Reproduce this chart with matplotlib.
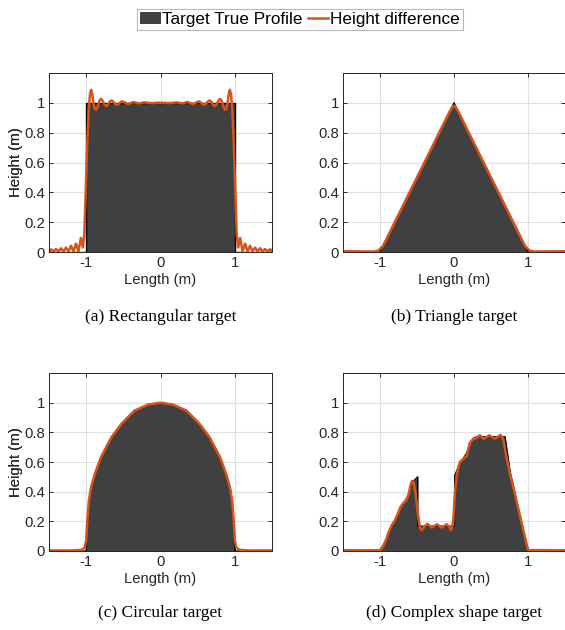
import matplotlib
matplotlib.use("Agg")
import matplotlib.pyplot as plt
from matplotlib.patches import Patch
from matplotlib.lines import Line2D

# ---------------- data ----------------
# (a) rectangular target
rect_true_x = [-1.5, -1.0, -1.0, 1.0, 1.0, 1.5]
rect_true_y = [0.0, 0.0, 1.0, 1.0, 0.0, 0.0]
rect_rec_x = [-1.500, -1.490, -1.473, -1.440, -1.406, -1.372, -1.339, -1.305, -1.272, -1.238,
              -1.205, -1.171, -1.138, -1.104, -1.071, -1.045, -1.025, -1.005, -0.985, -0.965,
              -0.948, -0.933, -0.918, -0.900, -0.885, -0.866, -0.845, -0.820, -0.800, -0.780,
              -0.755, -0.730, -0.705, -0.680, -0.655, -0.630, -0.605, -0.580, -0.555, -0.530,
              -0.510, -0.480, -0.440, -0.405, -0.370, -0.335, -0.300, -0.260, -0.220, -0.160,
              -0.100, -0.040, 0.000,
              0.040, 0.100, 0.160, 0.220, 0.260, 0.300, 0.335, 0.370, 0.405, 0.440,
              0.480, 0.510, 0.530, 0.555, 0.580, 0.605, 0.630, 0.655, 0.680, 0.705,
              0.730, 0.755, 0.780, 0.800, 0.820, 0.845, 0.866, 0.885, 0.900, 0.918,
              0.933, 0.948, 0.965, 0.985, 1.005, 1.025, 1.045, 1.071, 1.104, 1.138,
              1.171, 1.205, 1.238, 1.272, 1.305, 1.339, 1.372, 1.406, 1.440, 1.473,
              1.490, 1.500]
rect_rec_y = [0.012, 0.005, 0.018, 0.004, 0.020, 0.004, 0.025, 0.004, 0.030, 0.004,
              0.042, 0.004, 0.056, 0.005, 0.094, 0.030, 0.120, 0.420, 0.740, 0.960,
              1.060, 1.087, 1.060, 0.990, 0.960, 0.953, 0.975, 1.015, 1.027, 1.015,
              0.990, 0.978, 0.990, 1.010, 1.016, 1.005, 0.990, 0.987, 0.997, 1.007,
              1.009, 1.002, 0.992, 0.997, 1.005, 1.002, 0.996, 0.999, 1.003, 1.000,
              0.998, 1.001, 1.000,
              1.001, 0.998, 1.000, 1.003, 0.999, 0.996, 1.002, 1.005, 0.997, 0.992,
              1.002, 1.009, 1.007, 0.997, 0.987, 0.990, 1.005, 1.016, 1.010, 0.990,
              0.978, 0.990, 1.015, 1.027, 1.015, 0.975, 0.953, 0.960, 0.990, 1.060,
              1.087, 1.060, 0.960, 0.740, 0.420, 0.120, 0.030, 0.094, 0.005, 0.056,
              0.004, 0.042, 0.004, 0.030, 0.004, 0.025, 0.004, 0.020, 0.004, 0.018,
              0.005, 0.012]

# (b) triangle target
tri_true_x = [-1.5, -1.0, 0.0, 1.0, 1.5]
tri_true_y = [0.0, 0.0, 1.0, 0.0, 0.0]
tri_rec_x = [-1.5, -1.2, -1.08, -1.02, -0.96, -0.5, -0.06, -0.02, 0.0,
             0.02, 0.06, 0.5, 0.96, 1.02, 1.08, 1.2, 1.5]
tri_rec_y = [0.005, 0.004, 0.003, 0.01, 0.04, 0.5, 0.94, 0.975, 0.98,
             0.975, 0.94, 0.5, 0.04, 0.01, 0.003, 0.004, 0.005]

# (c) circular target
circ_true_x = [-1.5, -1.0, -0.985, -0.965, -0.945, -0.928, -0.883, -0.8, -0.66, -0.526,
               -0.35, -0.168, 0.0, 0.168, 0.35, 0.526, 0.66, 0.8, 0.883, 0.928,
               0.945, 0.965, 0.985, 1.0, 1.5]
circ_true_y = [0.0, 0.0, 0.18, 0.32, 0.40, 0.44, 0.52, 0.633, 0.767, 0.857,
               0.946, 0.987, 1.0, 0.987, 0.946, 0.857, 0.767, 0.633, 0.52, 0.44,
               0.40, 0.32, 0.18, 0.0, 0.0]
circ_rec_x = [-1.5, -1.2, -1.1, -1.05, -1.02, -1.0, -0.985, -0.965, -0.945, -0.928,
              -0.883, -0.8, -0.66, -0.526, -0.35, -0.168, 0.0, 0.168, 0.35, 0.526,
              0.66, 0.8, 0.883, 0.928, 0.945, 0.965, 0.985, 1.0, 1.02, 1.05,
              1.1, 1.2, 1.5]
circ_rec_y = [0.004, 0.004, 0.006, 0.01, 0.025, 0.07, 0.2, 0.33, 0.40, 0.44,
              0.52, 0.633, 0.767, 0.857, 0.946, 0.987, 1.0, 0.987, 0.946, 0.857,
              0.767, 0.633, 0.52, 0.44, 0.40, 0.33, 0.2, 0.07, 0.025, 0.01,
              0.006, 0.004, 0.004]

# (d) complex shape target
comp_true_x = [-1.5, -1.0, -0.907, -0.818, -0.728, -0.683, -0.616, -0.557, -0.49, -0.49,
               0.01, 0.01, 0.081, 0.126, 0.171, 0.216, 0.261, 0.306, 0.69, 0.76,
               1.0, 1.5]
comp_true_y = [0.0, 0.0, 0.083, 0.185, 0.286, 0.32, 0.376, 0.466, 0.5, 0.167,
               0.167, 0.51, 0.59, 0.625, 0.66, 0.73, 0.76, 0.77, 0.77, 0.53,
               0.0, 0.0]
comp_rec_x = [-1.5, -1.0, -0.96, -0.92, -0.88, -0.84, -0.8, -0.76, -0.72, -0.68,
              -0.64, -0.61, -0.585, -0.566, -0.545, -0.52, -0.5, -0.475, -0.455, -0.436,
              -0.41, -0.36, -0.30, -0.23, -0.17, -0.10, -0.065, -0.04, -0.01, 0.013,
              0.04, 0.06, 0.081, 0.11, 0.135, 0.171, 0.2, 0.216, 0.26, 0.306,
              0.35, 0.40, 0.476, 0.55, 0.629, 0.665, 0.701, 0.746, 1.0, 1.5]
comp_rec_y = [0.005, 0.005, 0.03, 0.075, 0.13, 0.175, 0.205, 0.25, 0.30, 0.325,
              0.345, 0.39, 0.45, 0.473, 0.46, 0.39, 0.30, 0.20, 0.15, 0.14,
              0.16, 0.183, 0.158, 0.18, 0.158, 0.18, 0.162, 0.14, 0.2, 0.4,
              0.52, 0.57, 0.60, 0.615, 0.625, 0.64, 0.70, 0.73, 0.755, 0.762,
              0.78, 0.757, 0.78, 0.757, 0.783, 0.757, 0.655, 0.545, 0.006, 0.005]

captions = ["(a) Rectangular target", "(b) Triangle target",
            "(c) Circular target", "(d) Complex shape target"]
xticks = [-1, 0, 1]
xticklabels = ["-1", "0", "1"]
yticks = [0, 0.2, 0.4, 0.6, 0.8, 1.0]
yticklabels = ["0", "0.2", "0.4", "0.6", "0.8", "1"]
legend_labels = ["Target True Profile", "Height difference"]

# ---------------- style ----------------
W, H = 565, 630
FILL = "#404040"
ORANGE = "#D95319"
AXC = "#262626"
SANS = ["Liberation Sans", "DejaVu Sans"]
SERIF = ["Liberation Serif", "DejaVu Serif"]
plt.rcParams["font.family"] = SANS

fig = plt.figure(figsize=(W / 100, H / 100), dpi=100)

def fx(px):
    return px / W

def fy(px):
    return 1 - px / H

boxes = [(49, 73, 272, 252), (343, 73, 565, 252),
         (49, 373, 272, 551), (343, 373, 565, 551)]
datasets = [(rect_true_x, rect_true_y, rect_rec_x, rect_rec_y),
            (tri_true_x, tri_true_y, tri_rec_x, tri_rec_y),
            (circ_true_x, circ_true_y, circ_rec_x, circ_rec_y),
            (comp_true_x, comp_true_y, comp_rec_x, comp_rec_y)]
cap_y = [317, 317, 613, 613]

for (l, t, r, b), (tx, ty, rx, ry), cap, cy in zip(boxes, datasets, captions, cap_y):
    ax = fig.add_axes([fx(l), fy(b), (r - l) / W, (b - t) / H])
    ax.fill_between(tx, ty, 0, color=FILL, lw=0, zorder=2)
    ax.plot(tx, ty, color="black", lw=1.0, zorder=3)
    ax.plot(rx, ry, color=ORANGE, lw=1.8, zorder=4)
    ax.set_xlim(-1.5, 1.5)
    ax.set_ylim(0, 1.2)
    ax.set_xticks(xticks)
    ax.set_xticklabels(xticklabels)
    ax.set_yticks(yticks)
    ax.set_yticklabels(yticklabels)
    ax.grid(True, color="#e0e0e0", lw=0.8, zorder=0)
    ax.set_axisbelow(True)
    ax.tick_params(direction="in", length=3, width=0.7, colors=AXC,
                   labelsize=10.7, top=True, right=True, pad=3)
    for s in ax.spines.values():
        s.set_color(AXC)
        s.set_linewidth(0.7)
        s.set_zorder(5)
    ax.set_xlabel("Length (m)", fontsize=10.7, color=AXC)
    ax.xaxis.set_label_coords(0.5, -0.155)
    ax.xaxis.label.set_va("center")
    ax.set_ylabel("Height (m)", fontsize=10.7, color=AXC)
    ax.yaxis.set_label_coords((16 - l) / (r - l), 0.5)
    ax.yaxis.label.set_va("center")
    fig.text(fx((l + r) / 2), fy(cy), cap, family=SERIF, fontsize=12.5,
             ha="center", va="center", color="black")

handles = [Patch(facecolor=FILL, edgecolor="none"),
           Line2D([0], [0], color=ORANGE, lw=1.8)]
leg = fig.legend(handles, legend_labels, loc="center", ncol=2,
                 bbox_to_anchor=(fx(300), fy(19.5)), fontsize=12.3,
                 frameon=True, fancybox=False, handlelength=1.2,
                 handletextpad=0.08, columnspacing=0.3, borderpad=0.2,
                 borderaxespad=0)
leg.get_frame().set_edgecolor("#a6a6a6")
leg.get_frame().set_linewidth(0.8)

fig.savefig("out.png", dpi=100)
